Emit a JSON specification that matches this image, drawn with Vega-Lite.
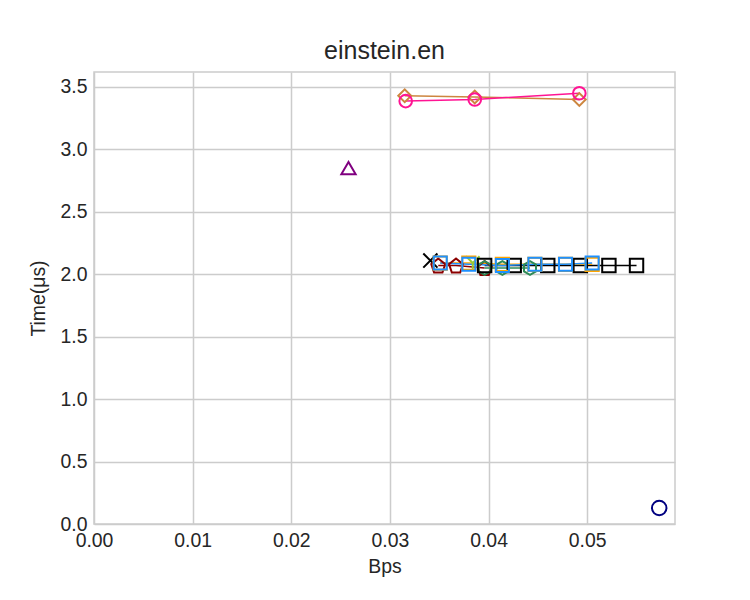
{
  "$schema": "https://vega.github.io/schema/vega-lite/v6.json",
  "width": 581,
  "height": 452,
  "autosize": {"type": "none"},
  "padding": {"left": 94, "top": 72, "right": 75, "bottom": 76},
  "background": "white",
  "title": {"text": "einstein.en", "fontSize": 25, "fontWeight": "normal", "font": "Liberation Sans", "color": "#262626", "offset": 8},
  "config": {
    "view": {"stroke": "#cccccc", "strokeWidth": 1.5},
    "axis": {"labelFont": "Liberation Sans", "titleFont": "Liberation Sans", "labelFontSize": 19.4, "titleFontSize": 19.4, "titleFontWeight": "normal", "labelColor": "#262626", "titleColor": "#262626", "gridColor": "#cccccc", "gridWidth": 1.5, "domain": false, "ticks": false, "labelPadding": 7, "labelFlush": false}
  },
  "data": {"values": [
    {"s": "a", "x": 0.0573, "y": 0.128},
    {"s": "b", "x": 0.0258, "y": 2.85},
    {"s": "c", "x": 0.0341, "y": 2.11},
    {"s": "d", "x": 0.0349, "y": 2.07},
    {"s": "d", "x": 0.0367, "y": 2.07},
    {"s": "d", "x": 0.0396, "y": 2.05},
    {"s": "e", "x": 0.0396, "y": 2.05},
    {"s": "e", "x": 0.0414, "y": 2.05},
    {"s": "e", "x": 0.0442, "y": 2.05},
    {"s": "f", "x": 0.0384, "y": 2.09},
    {"s": "g", "x": 0.0396, "y": 2.07},
    {"s": "g", "x": 0.0426, "y": 2.07},
    {"s": "g", "x": 0.0460, "y": 2.07},
    {"s": "g", "x": 0.0493, "y": 2.07},
    {"s": "g", "x": 0.0522, "y": 2.07},
    {"s": "g", "x": 0.0550, "y": 2.07},
    {"s": "h", "x": 0.0351, "y": 2.09},
    {"s": "h", "x": 0.0380, "y": 2.09},
    {"s": "h", "x": 0.0414, "y": 2.08},
    {"s": "h", "x": 0.0447, "y": 2.08},
    {"s": "h", "x": 0.0478, "y": 2.08},
    {"s": "h", "x": 0.0505, "y": 2.08},
    {"s": "i", "x": 0.0351, "y": 2.09},
    {"s": "i", "x": 0.0380, "y": 2.08},
    {"s": "i", "x": 0.0414, "y": 2.07},
    {"s": "i", "x": 0.0447, "y": 2.08},
    {"s": "i", "x": 0.0478, "y": 2.08},
    {"s": "i", "x": 0.0505, "y": 2.09},
    {"s": "j", "x": 0.0315, "y": 3.43},
    {"s": "j", "x": 0.0386, "y": 3.42},
    {"s": "j", "x": 0.0492, "y": 3.40},
    {"s": "k", "x": 0.0316, "y": 3.387},
    {"s": "k", "x": 0.0386, "y": 3.40},
    {"s": "k", "x": 0.0492, "y": 3.45}
  ]},
  "encoding": {
    "x": {"field": "x", "type": "quantitative", "title": "Bps", "scale": {"domain": [0, 0.0589], "nice": false, "zero": false}, "axis": {"values": [0, 0.01, 0.02, 0.03, 0.04, 0.05], "format": ".2f", "titlePadding": 8}},
    "y": {"field": "y", "type": "quantitative", "title": "Time(μs)", "scale": {"domain": [0, 3.62], "nice": false}, "axis": {"values": [0, 0.5, 1, 1.5, 2, 2.5, 3, 3.5], "format": ".1f", "titlePadding": 12}},
    "color": {"field": "s", "type": "nominal", "legend": null, "scale": {"domain": ["a","b","c","d","e","f","g","h","i","j","k"], "range": ["#000080","#800080","#000000","#8b0000","#2e8b57","#9acd32","#000000","#ffa500","#1e90ff","#cd853f","#ff1493"]}}
  },
  "layer": [
    {"mark": {"type": "line", "strokeWidth": 1.5}, "encoding": {"detail": {"field": "s"}}},
    {"mark": {"type": "point", "filled": false, "strokeWidth": 2, "opacity": 1},
     "encoding": {
       "shape": {"field": "s", "type": "nominal", "legend": null, "scale": {"domain": ["a","b","c","d","e","f","g","h","i","j","k"], "range": ["circle","triangle-up","M-1,-1L1,1M-1,1L1,-1","M0,-1L1,-0.2L0.6,1L-0.6,1L-1,-0.2Z","M0,-1L0.87,-0.5L0.87,0.5L0,1L-0.87,0.5L-0.87,-0.5Z","M-1,-1L0,0M1,-1L0,0M0,0L0,1","square","square","square","diamond","circle"]}},
       "size": {"field": "s", "type": "nominal", "legend": null, "scale": {"domain": ["a","b","c","d","e","f","g","h","i","j","k"], "range": [210, 160, 130, 140, 140, 120, 250, 290, 250, 450, 210]}}
     }}
  ]
}
